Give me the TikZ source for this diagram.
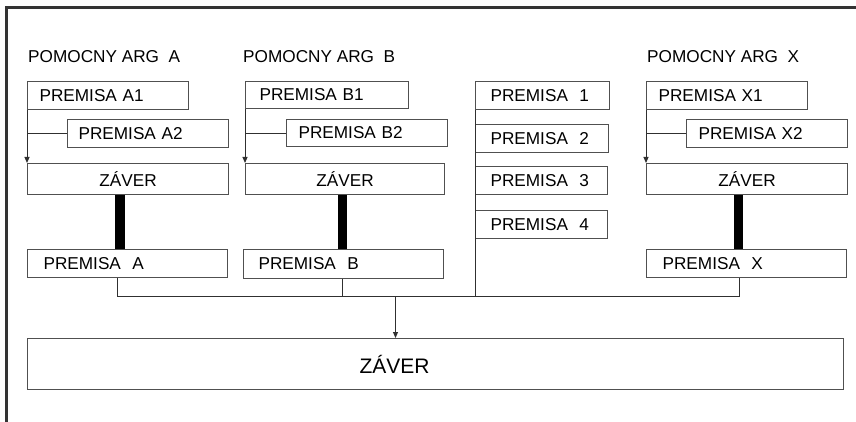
\documentclass[tikz,border=0pt]{standalone}
\usepackage{fontspec}
\setmainfont{Liberation Sans}
\usetikzlibrary{arrows.meta}
\definecolor{boxgray}{HTML}{505050}
\definecolor{linegray}{HTML}{303030}
\definecolor{framegray}{HTML}{333333}
\begin{document}
\begin{tikzpicture}[x=1pt,y=-1pt,
  every node/.style={font=\fontsize{17.2}{20}\selectfont},
  title/.style={anchor=west, inner sep=0pt},
  lbox/.style={draw=boxgray, line width=1.1pt, anchor=north west, align=left,
    inner ysep=0pt, minimum height=#1},
  cbox/.style={draw=boxgray, line width=1.1pt, anchor=north west, align=center,
    inner ysep=0pt, minimum height=#1},
  conn/.style={draw=linegray, line width=1pt},
  tip/.style={conn, -{Triangle[length=6pt,width=5pt]}},
  bar/.style={draw=black, line width=9.3pt}]
\useasboundingbox (0,0) rectangle (856,422);
% frame
\draw[framegray, line width=2.2pt] (6.5,422) -- (6.5,7.5) -- (856,7.5);

% group A
\node[title] (tA) at (28,57) {POMOCNY ARG\ \ A};
\node[lbox=28pt, text width=137pt, inner xsep=12pt] (A1) at (27,81) {PREMISA A1};
\node[lbox=28pt, text width=139pt, inner xsep=11pt] (A2) at (67,119) {PREMISA A2};
\node[cbox=31pt, text width=201pt, inner xsep=0pt] (ZA) at (27,163) {ZÁVER};
\node[lbox=28pt, text width=168pt, inner xsep=16pt] (PA) at (27,249) {PREMISA\ \ A};
\draw[tip] (A1.south west) -- (ZA.north west);
\draw[conn] (A2.west) -- (A2.west -| A1.south west);
\draw[bar] ([xshift=-8.2pt]ZA.south) -- ([xshift=-8.2pt]ZA.south |- PA.north);

% group B
\node[title] (tB) at (243,57) {POMOCNY ARG\ \ B};
\node[lbox=27pt, text width=135pt, inner xsep=14pt] (B1) at (245,81) {PREMISA B1};
\node[lbox=27pt, text width=137pt, inner xsep=12pt] (B2) at (286,119) {PREMISA B2};
\node[cbox=31pt, text width=199pt, inner xsep=0pt] (ZB) at (245,163) {ZÁVER};
\node[lbox=29pt, text width=170pt, inner xsep=15pt] (PB) at (243,249) {PREMISA\ \ B};
\draw[tip] (B1.south west) -- (ZB.north west);
\draw[conn] (B2.west) -- (B2.west -| B1.south west);
\draw[bar] ([xshift=-2.5pt]ZB.south) -- ([xshift=-2.5pt]ZB.south |- PB.north);

% middle column
\node[lbox=28pt, text width=104pt, inner xsep=15pt] (P1) at (475,81) {PREMISA\ \ 1};
\node[lbox=28pt, text width=103pt, inner xsep=15pt] (P2) at (475,124) {PREMISA\ \ 2};
\node[lbox=28pt, text width=102pt, inner xsep=15pt] (P3) at (475,166) {PREMISA\ \ 3};
\node[lbox=28pt, text width=102pt, inner xsep=15pt] (P4) at (475,210) {PREMISA\ \ 4};

% group X
\node[title] (tX) at (647,57) {POMOCNY ARG\ \ X};
\node[lbox=28pt, text width=137pt, inner xsep=12pt] (X1) at (646,81) {PREMISA X1};
\node[lbox=28pt, text width=137pt, inner xsep=12pt] (X2) at (686,119) {PREMISA X2};
\node[cbox=31pt, text width=201pt, inner xsep=0pt] (ZX) at (646,163) {ZÁVER};
\node[lbox=28pt, text width=168pt, inner xsep=16pt] (PX) at (646,249) {PREMISA\ \ X};
\draw[tip] (X1.south west) -- (ZX.north west);
\draw[conn] (X2.west) -- (X2.west -| X1.south west);
\draw[bar] ([xshift=-8.5pt]ZX.south) -- ([xshift=-8.5pt]ZX.south |- PX.north);

% final conclusion
\node[lbox=51pt, text width=152pt, inner xsep=332pt, font=\fontsize{21}{24}\selectfont] (Z) at (27,338) {ZÁVER};

% bus
\coordinate (busA) at ([xshift=-10pt]PA.south |- 0,296);
\coordinate (busX) at ([xshift=-7pt]PX.south |- 0,296);
\coordinate (busM) at (P1.south west |- 0,296);
\coordinate (busZ) at (395.5,296);
\draw[conn] ([xshift=-10pt]PA.south) -- (busA) -- (busX) -- ([xshift=-7pt]PX.south);
\draw[conn] ([xshift=-1pt]PB.south) -- ([xshift=-1pt]PB.south |- busA);
\draw[conn] (P1.south west) -- (busM);
\draw[tip] (busZ) -- (busZ |- Z.north);
\end{tikzpicture}
\end{document}
